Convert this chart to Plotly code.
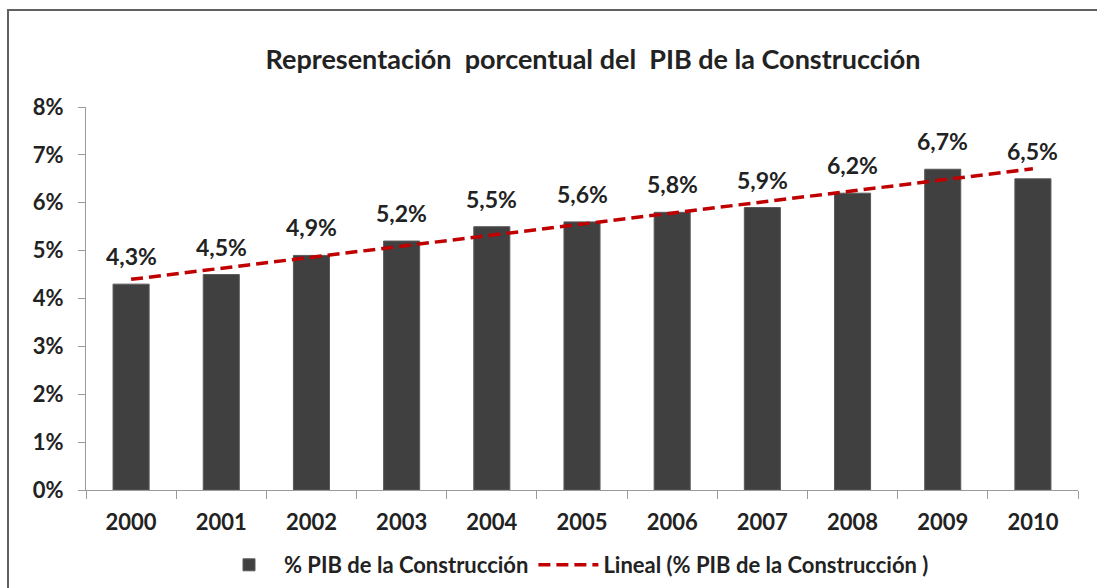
import numpy as np
import plotly.graph_objects as go

years = ["2000", "2001", "2002", "2003", "2004", "2005", "2006", "2007", "2008", "2009", "2010"]
pib_pct = [4.3, 4.5, 4.9, 5.2, 5.5, 5.6, 5.8, 5.9, 6.2, 6.7, 6.5]
labels = ["4,3%", "4,5%", "4,9%", "5,2%", "5,5%", "5,6%", "5,8%", "5,9%", "6,2%", "6,7%", "6,5%"]
y_ticks = [0, 1, 2, 3, 4, 5, 6, 7, 8]
y_ticktext = ["0%", "1%", "2%", "3%", "4%", "5%", "6%", "7%", "8%"]

# Excel-style linear trendline fitted to the series
xi = np.arange(1, len(pib_pct) + 1)
slope, intercept = np.polyfit(xi, pib_pct, 1)
trend = list(slope * xi + intercept)

FONT = "Lato"
TXT = "#222222"

fig = go.Figure()
fig.add_trace(go.Bar(
    x=years, y=pib_pct, name="% PIB de la Construcción",
    marker=dict(color="#404040", line=dict(color="#5a5a5a", width=1)),
    width=0.4,
))
fig.add_trace(go.Scatter(
    x=years, y=trend, mode="lines", name="Lineal (% PIB de la Construcción )",
    line=dict(color="#C00000", width=3.5, dash="12px,6px"),
))

for i, (v, lab) in enumerate(zip(pib_pct, labels)):
    fig.add_annotation(
        xref="x", yref="y", x=i, y=v, text=f"<b>{lab}</b>", showarrow=False,
        xanchor="center", yanchor="bottom", yshift=12,
        font=dict(family=FONT, size=23, color=TXT),
    )

L, R, T, B = 86, 19, 107, 98
W, H = 1097, 588
pw, ph = W - L - R, H - T - B

def px_x(p):
    return (p - L) / pw

def px_y(p):
    return (H - B - p) / ph

fig.update_layout(
    width=W, height=H,
    margin=dict(l=L, r=R, t=T, b=B, autoexpand=False),
    paper_bgcolor="white", plot_bgcolor="white",
    font=dict(family=FONT, color=TXT, size=16),
    title=dict(
        text="<b>Representación  porcentual del  PIB de la Construcción</b>",
        x=593 / W, xanchor="center", y=1 - 60 / H, yanchor="middle",
        font=dict(family=FONT, size=27, color=TXT),
    ),
    xaxis=dict(
        type="category", showline=True, linecolor="#9a9a9a", linewidth=1,
        ticks="outside", ticklen=8, tickcolor="#9a9a9a", tickson="boundaries",
        tickfont=dict(family=FONT, size=22, color=TXT, weight="bold"),
        ticklabelstandoff=13,
        showgrid=False, range=[-0.5, 10.5],
    ),
    yaxis=dict(
        range=[0, 8], tickvals=y_ticks, ticktext=y_ticktext,
        showline=True, linecolor="#9a9a9a", linewidth=1,
        ticks="outside", ticklen=7, tickcolor="#9a9a9a",
        tickfont=dict(family=FONT, size=22, color=TXT, weight="bold"),
        ticklabelstandoff=10,
        showgrid=False, zeroline=False,
    ),
    legend=dict(
        orientation="h", xref="container", yref="container",
        x=574 / W, xanchor="center", y=1 - 565 / H, yanchor="middle",
        font=dict(family=FONT, size=22, color=TXT, weight="bold"),
        itemwidth=60, traceorder="normal",
    ),
    showlegend=True,
    shapes=[dict(
        type="rect", xref="paper", yref="paper",
        x0=px_x(8), x1=px_x(1110), y0=px_y(600), y1=px_y(10),
        line=dict(color="#606060", width=2), fillcolor="rgba(0,0,0,0)", layer="below",
    )],
)

fig.write_html("out.html", config={"displayModeBar": False},
               post_script="document.body.style.margin='0px';")
